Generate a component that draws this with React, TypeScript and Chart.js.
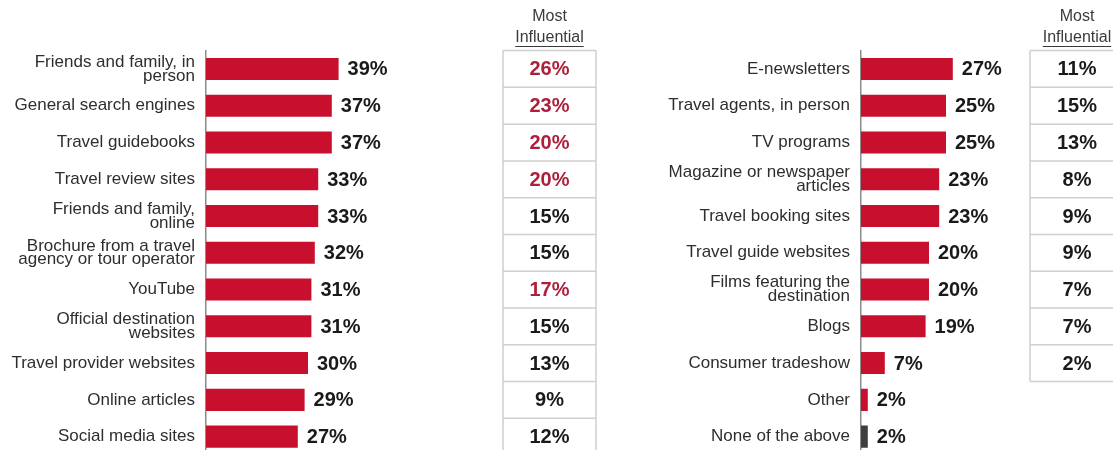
import React, { useEffect, useRef } from "react";
import { Chart, registerables } from "chart.js";

Chart.register(...registerables);

// ---------- DATA ----------
const leftCategories: (string | string[])[] = [
  ["Friends and family, in", "person"],
  "General search engines",
  "Travel guidebooks",
  "Travel review sites",
  ["Friends and family,", "online"],
  ["Brochure from a travel", "agency or tour operator"],
  "YouTube",
  ["Official destination", "websites"],
  "Travel provider websites",
  "Online articles",
  "Social media sites",
];
const leftReach = [39, 37, 37, 33, 33, 32, 31, 31, 30, 29, 27];
const leftMostInfluential = [26, 23, 20, 20, 15, 15, 17, 15, 13, 9, 12];

const rightCategories: (string | string[])[] = [
  "E-newsletters",
  "Travel agents, in person",
  "TV programs",
  ["Magazine or newspaper", "articles"],
  "Travel booking sites",
  "Travel guide websites",
  ["Films featuring the", "destination"],
  "Blogs",
  "Consumer tradeshow",
  "Other",
  "None of the above",
];
const rightReach = [27, 25, 25, 23, 23, 20, 20, 19, 7, 2, 2];
const rightMostInfluential = [11, 15, 13, 8, 9, 9, 7, 7, 2];

const tableHeader = ["Most", "Influential"];
const darkCategory = "None of the above";
const highlightThreshold = 17;

// ---------- STYLE ----------
const FONT = '"Liberation Sans", Arial, Helvetica, sans-serif';
const RED = "#c8102e";
const DARK = "#3f3f3f";
const TABLE_RED = "#ad1f3a";
const TEXT = "#1a1a1a";
const LABEL = "#2e2e2e";
const GRID = "#cfcfcf";

type PanelProps = {
  left: number;
  width: number;
  axisWidth: number;
  labels: (string | string[])[];
  values: number[];
  influential: number[];
  tableLeft: number;
  tableRight: number | null;
  tableCenter: number;
  highlight: boolean;
};

function Panel(p: PanelProps) {
  const ref = useRef<HTMLCanvasElement | null>(null);

  useEffect(() => {
    if (!ref.current) return;
    const pxPerUnit = 3.4;
    const xMax = 60;
    const plotRight = p.axisWidth + pxPerUnit * xMax;

    const valueLabels = {
      id: "valueLabels",
      afterDatasetsDraw(chart: any) {
        const ctx = chart.ctx;
        const meta = chart.getDatasetMeta(0);
        ctx.save();
        ctx.font = `bold 20px ${FONT}`;
        ctx.fillStyle = TEXT;
        ctx.textAlign = "left";
        ctx.textBaseline = "middle";
        meta.data.forEach((bar: any, i: number) => {
          ctx.fillText(`${p.values[i]}%`, bar.x + 9, bar.y + 1);
        });
        ctx.restore();
      },
    };

    const table = {
      id: "influentialTable",
      afterDraw(chart: any) {
        const ctx = chart.ctx;
        const y = chart.scales.y;
        const pitch = y.getPixelForValue(1) - y.getPixelForValue(0);
        const n = p.influential.length;
        const top = y.getPixelForValue(0) - pitch / 2;
        const bottom = y.getPixelForValue(n - 1) + pitch / 2;
        const right = p.tableRight ?? chart.width + 20;
        ctx.save();
        ctx.strokeStyle = GRID;
        ctx.lineWidth = 1.5;
        ctx.beginPath();
        for (let i = 0; i <= n; i++) {
          const yy = top + i * pitch;
          ctx.moveTo(p.tableLeft, yy);
          ctx.lineTo(right, yy);
        }
        ctx.moveTo(p.tableLeft, top);
        ctx.lineTo(p.tableLeft, bottom);
        if (p.tableRight !== null) {
          ctx.moveTo(p.tableRight, top);
          ctx.lineTo(p.tableRight, bottom);
        }
        ctx.stroke();

        ctx.font = `bold 20px ${FONT}`;
        ctx.textAlign = "center";
        ctx.textBaseline = "middle";
        p.influential.forEach((v, i) => {
          ctx.fillStyle =
            p.highlight && v >= highlightThreshold ? TABLE_RED : TEXT;
          ctx.fillText(`${v}%`, p.tableCenter, y.getPixelForValue(i) + 1);
        });

        ctx.font = `16px ${FONT}`;
        ctx.fillStyle = "#3a3a3a";
        ctx.fillText(tableHeader[0], p.tableCenter, 17);
        ctx.fillText(tableHeader[1], p.tableCenter, 38);
        const w = ctx.measureText(tableHeader[1]).width;
        ctx.strokeStyle = "#3a3a3a";
        ctx.lineWidth = 1;
        ctx.beginPath();
        ctx.moveTo(p.tableCenter - w / 2, 46.5);
        ctx.lineTo(p.tableCenter + w / 2, 46.5);
        ctx.stroke();
        ctx.restore();
      },
    };

    const chart = new Chart(ref.current, {
      type: "bar",
      data: {
        labels: p.labels,
        datasets: [
          {
            data: p.values,
            backgroundColor: p.labels.map((l) =>
              l === darkCategory ? DARK : RED
            ),
            borderWidth: 0,
            barPercentage: 0.6,
            categoryPercentage: 1,
          },
        ],
      },
      options: {
        indexAxis: "y",
        responsive: false,
        animation: false,
        devicePixelRatio: 1,
        layout: {
          padding: { left: 0, top: 50.6, bottom: 5, right: p.width - plotRight },
        },
        plugins: {
          legend: { display: false },
          tooltip: { enabled: false },
        },
        scales: {
          x: { display: false, min: 0, max: xMax },
          y: {
            afterFit: (s: any) => {
              s.width = p.axisWidth;
              s.paddingTop = 0;
              s.paddingBottom = 0;
            },
            grid: { display: false, drawTicks: false },
            border: { display: true, color: "#8c8c8c", width: 1.5 },
            ticks: {
              padding: 11,
              color: LABEL,
              font: { family: FONT, size: 17, lineHeight: 0.82 },
            },
          },
        },
      },
      plugins: [valueLabels, table],
    } as any);
    return () => chart.destroy();
  }, []);

  return (
    <div
      style={{
        position: "absolute",
        left: p.left,
        top: 0,
        width: p.width,
        height: 460,
      }}
    >
      <canvas
        ref={ref}
        width={p.width}
        height={460}
        style={{ width: p.width, height: 460, display: "block" }}
      />
    </div>
  );
}

export default function App() {
  return (
    <div
      style={{
        position: "absolute",
        left: 0,
        top: 0,
        width: 1113,
        height: 450,
        overflow: "hidden",
        background: "#ffffff",
      }}
    >
      <Panel
        left={0}
        width={620}
        axisWidth={206}
        labels={leftCategories}
        values={leftReach}
        influential={leftMostInfluential}
        tableLeft={503}
        tableRight={596}
        tableCenter={549.5}
        highlight={true}
      />
      <Panel
        left={620}
        width={493}
        axisWidth={241}
        labels={rightCategories}
        values={rightReach}
        influential={rightMostInfluential}
        tableLeft={410}
        tableRight={null}
        tableCenter={457}
        highlight={false}
      />
    </div>
  );
}
